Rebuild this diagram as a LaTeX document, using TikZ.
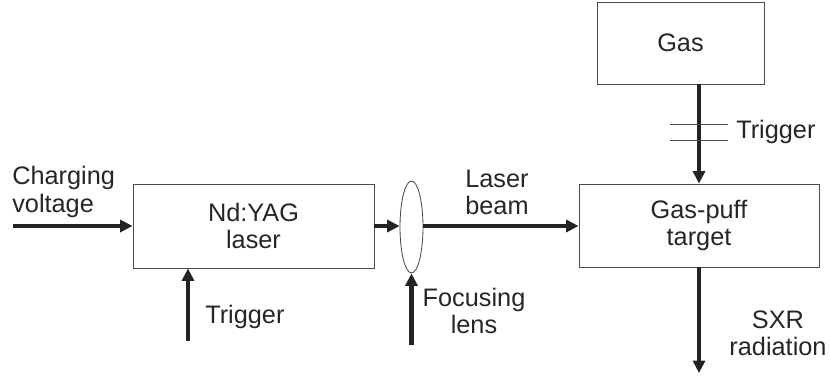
\documentclass[tikz,border=0pt]{standalone}
\usepackage{fontspec}
\setmainfont{Liberation Sans}
\usetikzlibrary{arrows.meta,shapes.geometric}
\definecolor{boxGray}{HTML}{4A4A4A}
\definecolor{arrowDark}{HTML}{232323}
\definecolor{textDark}{HTML}{262626}
\newcommand\labelFont{\fontsize{18}{19.3}\selectfont}
\tikzset{
	unitbox/.style={draw=boxGray, line width=0.7pt, inner sep=0pt, align=center, font=\labelFont, text=textDark},
	beam/.style={draw=arrowDark, line width=3.2pt, -{Triangle[length=3.1mm,width=3mm]}},
	tag/.style={align=center, font=\labelFont, text=textDark, inner sep=0pt}
}
\begin{document}
\begin{tikzpicture}[x=0.25mm,y=-0.25mm]
		\useasboundingbox (0,0) rectangle (830,379);
		
		% blocks
		\node[unitbox, minimum width=4.175cm, minimum height=2.05cm] (gas) at (680.5,43) {Gas};
		\node[unitbox, minimum width=6cm, minimum height=2.075cm] (target) at (699,225.5) {Gas-puff\\target};
		\node[unitbox, minimum width=6.025cm, minimum height=2.1cm] (laser) at (253.5,226) {Nd:YAG\\laser};
		\node[draw=boxGray, line width=0.6pt, ellipse, minimum width=0.575cm, minimum height=2.3cm, inner sep=0pt] (lens) at (411.5,227) {};
		
		% free ends
		\coordinate (chargeIn) at (13,226);
		\coordinate (trigIn) at (188,341);
		\coordinate (lensIn) at (411.5,345);
		\coordinate (sxrOut) at (699,373);
		
		% beams
		\draw[beam] (chargeIn) -- (chargeIn -| laser.west);
		\draw[beam] (laser.east |- chargeIn) -- (lens.west |- chargeIn);
		\draw[beam] (lens.east |- chargeIn) -- (target.west |- chargeIn);
		\draw[beam] (trigIn) -- (trigIn |- laser.south);
		\draw[beam] (lensIn) -- (lens.south);
		\draw[beam] (gas.south -| target.north) -- (target.north);
		\draw[beam] (target.south) -- (sxrOut);
		
		% trigger marks on the gas line
		\foreach \y in {124.3,140.7}{
			\draw[draw=boxGray, line width=0.6pt] (670,\y) -- (728,\y);
		}
		
		% labels
		\node[tag, align=left, anchor=west] (chargeLbl) at (12,192) {Charging\\voltage};
		\node[tag] (beamLbl) at (497,192) {Laser\\beam};
		\node[tag, anchor=west] (gasTrigLbl) at (736,132) {Trigger};
		\node[tag, anchor=west] (laserTrigLbl) at (205,317) {Trigger};
		\node[tag] (lensLbl) at (474,311) {Focusing\\lens};
		\node[tag] (sxrLbl) at (778,333) {SXR\\radiation};
	\end{tikzpicture}
\end{document}
